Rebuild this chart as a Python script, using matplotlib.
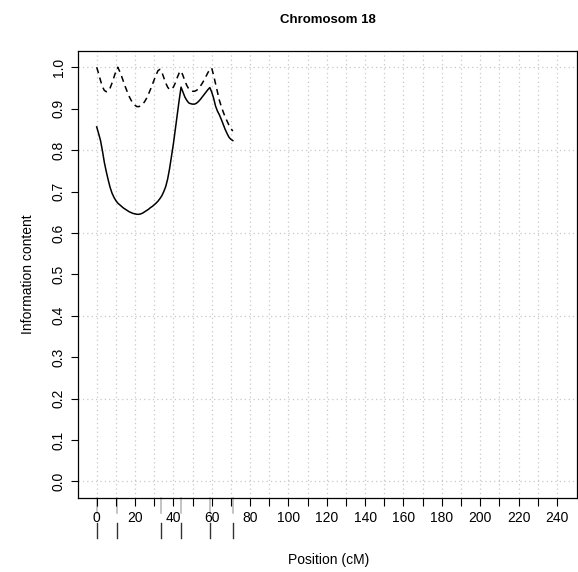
import numpy as np
import matplotlib
matplotlib.use("Agg")
import matplotlib.pyplot as plt
import matplotlib.transforms as mtransforms

plt.rcParams['font.family'] = ['Liberation Sans', 'DejaVu Sans']

# information content along chromosome 18
pos = [0, 1, 2, 3, 4, 5, 6, 7, 8, 9, 10, 11, 12, 13, 14, 15, 16, 17, 18, 19,
       20, 21, 22, 23, 24, 25, 26, 27, 28, 29, 30, 31, 32, 33, 34, 35, 36, 37,
       38, 39, 40, 41, 42, 43, 44, 45, 46, 47, 48, 49, 50, 51, 52, 53, 54, 55,
       56, 57, 58, 59, 60, 61, 62, 63, 64, 65, 66, 67, 68, 69, 70, 71]

info_single = [0.856, 0.840, 0.823, 0.798, 0.770, 0.748, 0.728, 0.710, 0.696, 0.686,
               0.678, 0.672, 0.668, 0.664, 0.660, 0.657, 0.654, 0.651, 0.649, 0.647,
               0.646, 0.645, 0.645, 0.646, 0.648, 0.651, 0.654, 0.657, 0.661, 0.664,
               0.668, 0.672, 0.677, 0.683, 0.690, 0.700, 0.712, 0.730, 0.755, 0.785,
               0.815, 0.850, 0.885, 0.920, 0.952, 0.940, 0.928, 0.920, 0.914, 0.912,
               0.911, 0.911, 0.913, 0.917, 0.922, 0.928, 0.934, 0.940, 0.946, 0.951,
               0.940, 0.925, 0.906, 0.894, 0.885, 0.874, 0.862, 0.850, 0.840, 0.831,
               0.826, 0.823]

info_multi = [1.000, 0.985, 0.968, 0.953, 0.944, 0.941, 0.942, 0.950, 0.962, 0.976,
              0.990, 1.000, 0.990, 0.978, 0.965, 0.952, 0.940, 0.929, 0.920, 0.913,
              0.908, 0.905, 0.905, 0.907, 0.911, 0.917, 0.925, 0.935, 0.946, 0.958,
              0.970, 0.982, 0.992, 0.995, 0.988, 0.975, 0.962, 0.952, 0.946, 0.947,
              0.952, 0.962, 0.975, 0.986, 0.991, 0.980, 0.967, 0.956, 0.948, 0.944,
              0.942, 0.942, 0.944, 0.948, 0.954, 0.961, 0.969, 0.978, 0.987, 0.995,
              0.998, 0.980, 0.960, 0.940, 0.920, 0.905, 0.892, 0.880, 0.870, 0.860,
              0.852, 0.846]

# marker positions (cM)
markers = [0, 10.8, 33.5, 44.0, 59.3, 71.3]

xticks = list(range(0, 250, 10))
xticklabels = [str(t) if t % 20 == 0 else "" for t in xticks]
yticks = [round(0.1 * i, 1) for i in range(11)]
yticklabels = ["%.1f" % t for t in yticks]

fig = plt.figure(figsize=(5.78, 5.72), dpi=100)
ax = fig.add_axes([78 / 578, 74 / 572, 499 / 578, 447.3 / 572])

# dotted grid
for x in range(0, 250, 10):
    ax.axvline(x, color='#c8c8c8', lw=0.9, ls=(0, (1, 2.5)), zorder=1)
for y in [0.0, 0.2, 0.4, 0.6, 0.8, 1.0]:
    ax.axhline(y, color='#c8c8c8', lw=0.9, ls=(0, (1, 2.5)), zorder=1)

ax.plot(pos, info_single, color='black', lw=1.1, zorder=3)
ax.plot(pos, info_multi, color='black', lw=1.1, ls=(0, (4, 3)), zorder=3)

ax.set_xlim(-9.75, 250.5)
ax.set_ylim(-0.04, 1.04)

ax.set_xticks(xticks)
ax.set_xticklabels(xticklabels, fontsize=10)
ax.set_yticks(yticks)
ax.set_yticklabels(yticklabels, fontsize=10, rotation=90, va='center')
ax.tick_params(axis='x', length=6, width=0.8, pad=3)
ax.tick_params(axis='y', length=5, width=0.8, pad=4)

for s in ax.spines.values():
    s.set_linewidth(0.9)

# marker rug below the axis
trans = mtransforms.blended_transform_factory(ax.transData, ax.transAxes)
for m in markers:
    ax.plot([m, m], [0, -15 / 447.3], transform=trans, color='#b4b4b4',
            lw=1.1, clip_on=False, zorder=1)
    ax.plot([m, m], [-25 / 447.3, -40 / 447.3], transform=trans, color='#333333',
            lw=1.0, clip_on=False, zorder=1)

fig.text(327.5 / 578, 1 - 22.7 / 572, "Chromosom 18", ha='center', va='baseline',
         fontsize=9.5, fontweight='bold')
fig.text(328.5 / 578, 1 - 564 / 572, "Position (cM)", ha='center', va='baseline',
         fontsize=10)
fig.text(28 / 578, 1 - 274 / 572, "Information content", ha='center', va='center',
         rotation=90, fontsize=10)

fig.savefig("out.png", dpi=100)
